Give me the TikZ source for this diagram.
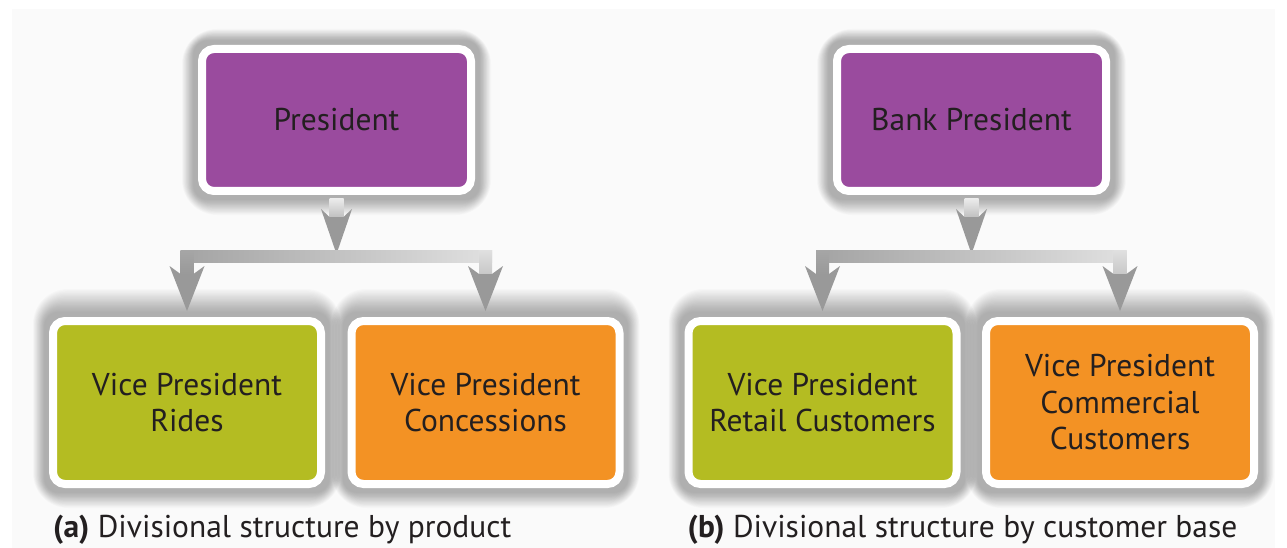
\documentclass[tikz,border=0pt]{standalone}
\usepackage{fontspec}
\setmainfont{PT Sans}
\usetikzlibrary{calc}
\definecolor{purp}{HTML}{9A4B9E}
\definecolor{lime}{HTML}{B4BC22}
\definecolor{orng}{HTML}{F39224}
\definecolor{ink}{HTML}{231F20}
\definecolor{bgc}{HTML}{FAFAFA}
\definecolor{headgray}{HTML}{999999}
\pgfdeclarelayer{back}
\pgfsetlayers{back,main}
\tikzset{
  box/.style={draw=white, line width=8pt, rounded corners=12pt, inner sep=0pt,
    align=center, text=ink, font=\fontsize{31.5}{36.5}\selectfont},
  topbox/.style={box, fill=purp, minimum width=269pt, minimum height=142pt},
  lowbox/.style={box, minimum width=268pt, minimum height=163pt},
  captext/.style={anchor=base west, text=ink, inner sep=0pt, font=\fontsize{31.5}{36}\selectfont},
  glowlayer/.style={fill=black, opacity=0.017},
}
% soft shadow round a node: #1 node, #2 upward spread per step
\newcommand\glow[2]{%
  \foreach \i in {1,...,20}{%
    \fill[glowlayer, rounded corners={(13+1.1*\i)*1pt}] ($(#1.north west)+(-4-0.6*\i,-4-#2*\i)$) rectangle ($(#1.south east)+(4+0.6*\i,4+0.8*\i)$);
  }}
% head: #1 tip coordinate, #2 half stem width, #3 half wing width
\newcommand\arrowhead[3]{%
  \fill[headgray] let \p1=#1 in
    (\x1-#2,\y1+37pt) -- (\x1-#3,\y1+45pt) -- (\x1,\y1) -- (\x1+#3,\y1+45pt) -- (\x1+#2,\y1+37pt) -- cycle;}
% panel: #1 top node, #2 left node, #3 right node, #4 suffix
\newcommand\connect[4]{%
  \coordinate (tip#4) at ($(#1.south)+(0,59)$);
  \coordinate (ltip#4) at ($(#2.north)+(0,-6)$);
  \coordinate (rtip#4) at ($(#3.north)+(0,-6)$);
  \coordinate (barl#4) at ($(#2.north)+(-6.5,-67)$);
  \coordinate (barr#4) at ($(#3.north)+(6.5,-55)$);
  % stem under the top box
  \shade[top color=black!8, bottom color=black!25] ($(#1.south)+(-7,4)$) rectangle ($(tip#4)+(7,-36.5)$);
  \arrowhead{(tip#4)}{7pt}{15.5pt}
  % horizontal bar
  \shade[left color=black!36, right color=black!12] (barl#4) rectangle (barr#4);
  % drops
  \shade[top color=black!35, bottom color=black!40] (barl#4) rectangle ($(ltip#4)+(6.5,-36.5)$);
  \shade[top color=black!12, bottom color=black!22] ($(barr#4)+(-13,-12)$) rectangle ($(rtip#4)+(6.5,-36.5)$);
  \arrowhead{(ltip#4)}{6.5pt}{17.5pt}
  \arrowhead{(rtip#4)}{6.5pt}{17.5pt}
}
\begin{document}
\begin{tikzpicture}[x=1pt,y=-1pt]
\useasboundingbox (0,0) rectangle (1287,548);
\node[topbox] (pres) at (336.5,120) {President};
\node[lowbox, fill=lime] (ga) at (187,402.5) {Vice President\\Rides};
\node[lowbox, fill=orng] (oa) at (485.5,402.5) {Vice President\\Concessions};
\node[topbox] (bpres) at (971.5,120) {Bank President};
\node[lowbox, fill=lime] (gb) at (822.5,402.5) {Vice President\\Retail Customers};
\node[lowbox, fill=orng] (ob) at (1120,402.5) {Vice President\\Commercial\\Customers};
\begin{pgfonlayer}{back}
  \fill[white] (0,0) rectangle (1287,548);
  \fill[bgc] (12,9) rectangle (1275,548);
  \glow{pres}{0.6}\glow{bpres}{0.6}
  \glow{ga}{1.2}\glow{oa}{1.2}\glow{gb}{1.2}\glow{ob}{1.2}
\end{pgfonlayer}
\connect{pres}{ga}{oa}{A}
\connect{bpres}{gb}{ob}{B}
\node[captext] (capa) at ($(ga.south west)+(4,49)$) {\textbf{(a)} Divisional structure by product};
\node[captext] (capb) at ($(gb.south west)+(3,49)$) {\textbf{(b)} Divisional structure by customer base};
\end{tikzpicture}
\end{document}
